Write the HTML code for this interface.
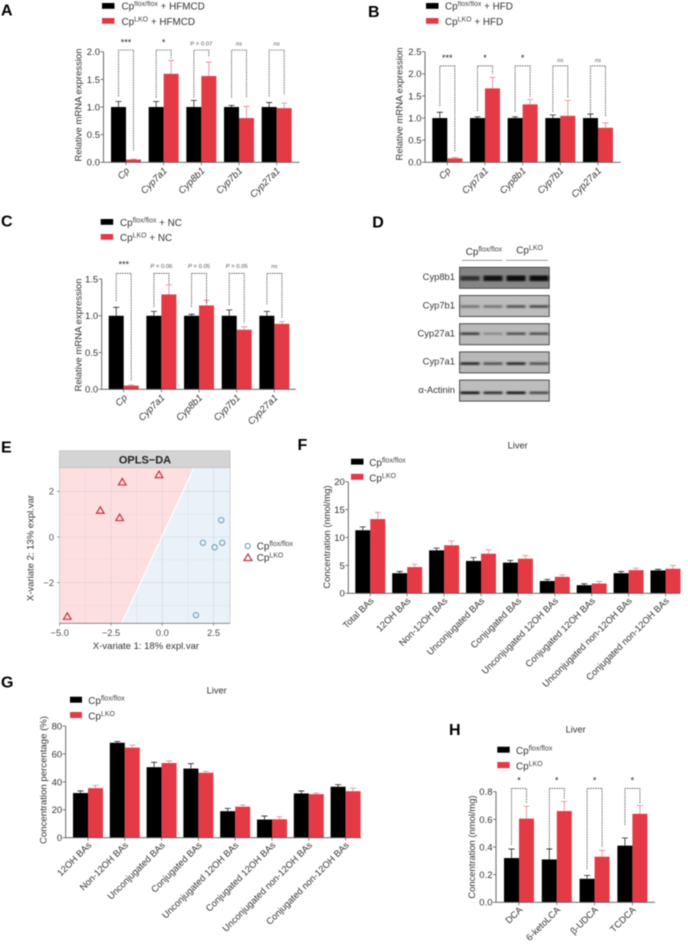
<!DOCTYPE html>
<html lang="en">
<head>
<meta charset="utf-8">
<title>Bile acid figure panels</title>
<style>
html,body{margin:0;padding:0;background:#fff;width:688px;height:944px;overflow:hidden}
svg{display:block;filter:blur(0.4px);font-family:"Liberation Sans",Arial,sans-serif;fill:#333}
.letter{font-size:16px;font-weight:bold;fill:#000}
.leg{font-size:9.9px}
.sup{font-size:7px;fill:#444}
.title{font-size:9.3px;text-anchor:middle}
</style>
</head>
<body>
<svg id="figure" xmlns="http://www.w3.org/2000/svg" width="688" height="944" viewBox="0 0 688 944">
<defs>
<filter id="band-blur" x="-30%" y="-150%" width="160%" height="400%"><feGaussianBlur stdDeviation="1.1 0.7"/></filter>
<clipPath id="e-clip"><rect x="59.5" y="467.7" width="170.5" height="155.6"/></clipPath>
</defs>

<text class="letter" x="1" y="15.7">A</text>
<text class="letter" x="368" y="17">B</text>
<text class="letter" x="1" y="226.7">C</text>
<text class="letter" x="372.3" y="227.5">D</text>
<text class="letter" x="1" y="452.3">E</text>
<text class="letter" x="297.5" y="450">F</text>
<text class="letter" x="1" y="687.3">G</text>
<text class="letter" x="449" y="735">H</text>

<!-- Legends -->
<g>
<rect x="102" y="3" width="12.5" height="5.8" fill="#000"/>
<text class="leg" x="121.5" y="9.6">Cp<tspan class="sup" dy="-3.4">flox/flox</tspan><tspan dy="3.4"> + HFMCD</tspan></text>
<rect x="102" y="18" width="12.5" height="5.8" fill="#e43a46"/>
<text class="leg" x="121.5" y="24.8">Cp<tspan class="sup" dy="-3.4">LKO</tspan><tspan dy="3.4"> + HFMCD</tspan></text>
</g>
<g>
<rect x="426" y="3" width="12.5" height="5.8" fill="#000"/>
<text class="leg" x="445" y="9.6">Cp<tspan class="sup" dy="-3.4">flox/flox</tspan><tspan dy="3.4"> + HFD</tspan></text>
<rect x="426" y="18" width="12.5" height="5.8" fill="#e43a46"/>
<text class="leg" x="445" y="24.8">Cp<tspan class="sup" dy="-3.4">LKO</tspan><tspan dy="3.4"> + HFD</tspan></text>
</g>
<g>
<rect x="100.7" y="219" width="12.5" height="5.8" fill="#000"/>
<text class="leg" x="120" y="225.8">Cp<tspan class="sup" dy="-3.4">flox/flox</tspan><tspan dy="3.4"> + NC</tspan></text>
<rect x="100.7" y="234" width="12.5" height="5.8" fill="#e43a46"/>
<text class="leg" x="120" y="240.8">Cp<tspan class="sup" dy="-3.4">LKO</tspan><tspan dy="3.4"> + NC</tspan></text>
</g>
<g>
<rect x="351" y="458.7" width="12.5" height="5.9" fill="#000"/>
<text class="leg" x="369.3" y="466">Cp<tspan class="sup" dy="-3.4">flox/flox</tspan></text>
<rect x="351" y="473.8" width="12.5" height="6" fill="#e43a46"/>
<text class="leg" x="369.3" y="481.3">Cp<tspan class="sup" dy="-3.4">LKO</tspan></text>
<text class="title" x="517.7" y="448.7">Liver</text>
</g>
<g>
<rect x="70" y="696.7" width="12" height="6" fill="#000"/>
<text class="leg" x="88.3" y="704">Cp<tspan class="sup" dy="-3.4">flox/flox</tspan></text>
<rect x="70" y="712" width="12" height="6" fill="#e43a46"/>
<text class="leg" x="88.3" y="719.3">Cp<tspan class="sup" dy="-3.4">LKO</tspan></text>
<text class="title" x="216.7" y="693.3">Liver</text>
</g>
<g>
<rect x="497.3" y="746.7" width="12.4" height="6" fill="#000"/>
<text class="leg" x="516" y="754">Cp<tspan class="sup" dy="-3.4">flox/flox</tspan></text>
<rect x="497.3" y="762" width="12.4" height="6.2" fill="#e43a46"/>
<text class="leg" x="516" y="769.3">Cp<tspan class="sup" dy="-3.4">LKO</tspan></text>
<text class="title" x="575.7" y="732.3">Liver</text>
</g>

<!-- Panels filled by script -->
<g id="panel-a"></g>
<g id="panel-b"></g>
<g id="panel-c"></g>
<g id="panel-f"></g>
<g id="panel-g"></g>
<g id="panel-h"></g>

<!-- Panel D -->
<g id="panel-d">
<text class="leg" x="465.7" y="255">Cp<tspan class="sup" dy="-3.4">flox/flox</tspan></text>
<text class="leg" x="516.3" y="253.5">Cp<tspan class="sup" dy="-3.4">LKO</tspan></text>
<line x1="462" x2="502.5" y1="260.3" y2="260.3" stroke="#666" stroke-width="0.7"/>
<line x1="506" x2="548" y1="260.3" y2="260.3" stroke="#666" stroke-width="0.7"/>
</g>

<!-- Panel E -->
<g id="panel-e">
<rect x="59.5" y="450.8" width="170.5" height="17" fill="#d4d4d4" stroke="#bdbdbd" stroke-width="0.8"/>
<text x="145" y="463.5" text-anchor="middle" style="font-size:11px;font-weight:bold;fill:#222">OPLS−DA</text>
<g id="e-plot" clip-path="url(#e-clip)"></g>
<g id="e-axes"></g>
<circle cx="247.7" cy="546" r="2.6" fill="none" stroke="#6f9fb8" stroke-width="1.1"/>
<text class="leg" x="256.7" y="549.3">Cp<tspan class="sup" dy="-3.4">flox/flox</tspan></text>
<path d="M244 560.5 L248 554 L252 560.5 Z" fill="none" stroke="#c0333f" stroke-width="1.2"/>
<text class="leg" x="256.7" y="560.8">Cp<tspan class="sup" dy="-3.4">LKO</tspan></text>
</g>

<script>
// ---------- Panel A data ----------
const genes = ['Cp', 'Cyp7a1', 'Cyp8b1', 'Cyp7b1', 'Cyp27a1'];
const ticksA = ['0.0', '0.5', '1.0', '1.5', '2.0'];
const floxA = [1, 1, 1, 1, 1];
const floxTopA = [1.10, 1.10, 1.12, 1.03, 1.08];
const lkoA = [0.05, 1.60, 1.56, 0.80, 0.98];
const lkoTopA = [0.06, 1.84, 1.81, 1.01, 1.07];
const sigA = ['***', '*', 'P = 0.07', 'ns', 'ns'];
const bracketTopA = 2.03;
const bracketLeftA = [1.19, 1.17, 1.17, 1.17, 1.19];
const bracketRightA = [0.21, 1.88, 1.92, 1.17, 1.22];

// ---------- Panel B data ----------
const ticksB = ['0.0', '0.5', '1.0', '1.5', '2.0', '2.5'];
const floxB = [1, 1, 1, 1, 1];
const floxTopB = [1.13, 1.03, 1.03, 1.07, 1.09];
const lkoB = [0.09, 1.67, 1.31, 1.05, 0.78];
const lkoTopB = [0.11, 1.92, 1.42, 1.40, 0.89];
const sigB = ['***', '*', '*', 'ns', 'ns'];
const bracketTopB = 2.18;
const bracketLeftB = [1.27, 1.16, 1.14, 1.14, 1.07];
const bracketRightB = [0.24, 2.00, 1.48, 1.45, 1.02];

// ---------- Panel C data ----------
const ticksC = ['0.0', '0.5', '1.0', '1.5'];
const floxC = [1, 1, 1, 1, 1];
const floxTopC = [1.115, 1.06, 1.02, 1.08, 1.06];
const lkoC = [0.05, 1.29, 1.14, 0.81, 0.89];
const lkoTopC = [0.06, 1.42, 1.21, 0.85, 0.92];
const sigC = ['***', 'P = 0.06', 'P = 0.05', 'P = 0.05', 'ns'];
const bracketTopC = 1.577;
const bracketLeftC = [1.20, 1.12, 1.12, 1.146, 1.155];
const bracketRightC = [0.12, 1.42, 1.17, 0.90, 0.965];

// ---------- Panel F data ----------
const categoriesF = ['Total BAs', '12OH BAs', 'Non-12OH BAs', 'Unconjugated BAs', 'Conjugated BAs', 'Unconjugated 12OH BAs', 'Conjugated 12OH BAs', 'Unconjugated non-12OH BAs', 'Conjugated non-12OH BAs'];
const ticksF = ['0', '5', '10', '15', '20'];
const floxF = [11.3, 3.6, 7.7, 5.8, 5.5, 2.2, 1.45, 3.6, 4.1];
const floxTopF = [11.9, 3.9, 8.1, 6.4, 5.9, 2.5, 1.7, 3.9, 4.3];
const lkoF = [13.3, 4.7, 8.6, 7.1, 6.2, 2.95, 1.75, 4.15, 4.4];
const lkoTopF = [14.5, 5.2, 9.4, 7.8, 6.8, 3.3, 2.1, 4.5, 5.0];

// ---------- Panel G data ----------
const categoriesG = ['12OH BAs', 'Non-12OH BAs', 'Unconjugated BAs', 'Conjugated BAs', 'Unconjugated 12OH BAs', 'Conjugated 12OH BAs', 'Unconjugated non-12OH BAs', 'Conjugated non-12OH BAs'];
const ticksG = ['0', '20', '40', '60', '80'];
const floxG = [32, 68, 50.5, 49.5, 19, 13, 31.7, 36.5];
const floxTopG = [33.5, 69, 54, 53, 21, 15.5, 33.5, 38];
const lkoG = [35.5, 64.5, 53.5, 46.5, 22.2, 13.2, 31.2, 33.3];
const lkoTopG = [37.5, 66.3, 55, 47.5, 23.5, 15, 32, 35.5];

// ---------- Panel H data ----------
const categoriesH = ['DCA', '6-ketoLCA', 'β-UDCA', 'TCDCA'];
const ticksH = ['0.0', '0.2', '0.4', '0.6', '0.8'];
const floxH = [0.32, 0.31, 0.17, 0.41];
const floxTopH = [0.385, 0.385, 0.195, 0.465];
const lkoH = [0.605, 0.66, 0.33, 0.64];
const lkoTopH = [0.695, 0.73, 0.375, 0.70];
const sigH = ['*', '*', '*', '*'];
const bracketTopH = 0.824;
const bracketLeftH = [0.415, 0.39, 0.24, 0.56];
const bracketRightH = [0.715, 0.75, 0.40, 0.71];

// ---------- Panel E data ----------
const floxScatterX = [2.87, 1.98, 2.55, 2.92, 1.64];
const floxScatterY = [0.74, -0.25, -0.45, -0.25, -3.42];
const lkoScatterX = [-3.02, -1.95, -0.16, -2.08, -4.63];
const lkoScatterY = [1.17, 2.41, 2.73, 0.85, -3.47];
const scatterXTicks = [-5, -2.5, 0, 2.5];
const scatterYTicks = [-2, 0, 2];

// ---------- Panel D data (band darkness per lane) ----------
const blotProteins = ['Cyp8b1', 'Cyp7b1', 'Cyp27a1', 'Cyp7a1', 'α-Actinin'];
const blotBands = [
  [0.7, 0.95, 1, 1],
  [0.4, 0.4, 0.6, 0.65],
  [0.7, 0.25, 0.6, 0.6],
  [0.85, 0.6, 0.85, 0.6],
  [0.95, 0.8, 0.95, 0.65]
];

const NS = 'http://www.w3.org/2000/svg';
const RED = '#e43a46';
const RED_ERR = '#e9808a';

function add(parent, tag, attrs, text) {
  const el = document.createElementNS(NS, tag);
  for (const k in attrs) el.setAttribute(k, attrs[k]);
  if (text !== undefined) el.textContent = text;
  parent.appendChild(el);
  return el;
}

function linearScale(dMin, dMax, rMin, rMax) {
  return v => rMin + (v - dMin) / (dMax - dMin) * (rMax - rMin);
}

function drawBarPanel(p) {
  const root = document.getElementById(p.id);
  const tickValues = p.ticks.map(Number);
  const y = linearScale(0, Math.max.apply(null, tickValues), p.y0, p.yTop);
  const x = i => p.firstX + i * p.step;
  const halfBar = 15;

  p.cats.forEach((cat, i) => {
    const cx = x(i);
    const barBlack = add(root, 'rect', { x: cx - halfBar, y: y(p.flox[i]), width: halfBar, height: p.y0 - y(p.flox[i]), fill: '#000' });
    
    
    const barRed = add(root, 'rect', { x: cx, y: y(p.lko[i]), width: halfBar, height: p.y0 - y(p.lko[i]), fill: RED });
    
    

    const errBlack = add(root, 'path', { d: `M${cx - 7.5} ${y(p.flox[i])}V${y(p.floxTop[i])}M${cx - 10.5} ${y(p.floxTop[i])}H${cx - 4.5}`, stroke: '#222', 'stroke-width': 0.8, fill: 'none' });
    
    
    const errRed = add(root, 'path', { d: `M${cx + 7.5} ${y(p.lko[i])}V${y(p.lkoTop[i])}M${cx + 4.5} ${y(p.lkoTop[i])}H${cx + 10.5}`, stroke: RED_ERR, 'stroke-width': 0.8, fill: 'none' });
    
    

    const tick = add(root, 'line', { x1: cx, x2: cx, y1: p.y0, y2: p.y0 + 3, stroke: '#555', 'stroke-width': 0.7 });
    
    

    const lx = cx + p.labelDx, ly = p.y0 + p.labelDy;
    const label = add(root, 'text', { x: lx, y: ly, 'text-anchor': 'end', transform: `rotate(-45 ${lx} ${ly})`, style: `font-size:${p.labelSize}px;${p.italic ? 'font-style:italic;' : ''}` }, cat);
    
    

    if (p.sig) {
      const yt = y(p.bracketTop);
      const br = add(root, 'path', { d: `M${cx - 7.5} ${y(p.bracketLeft[i])}V${yt}H${cx + 7.5}V${y(p.bracketRight[i])}`, stroke: '#333', 'stroke-width': 0.7, 'stroke-dasharray': '1.5 0.9', fill: 'none' });
      
      
      const s = p.sig[i];
      const star = s[0] === '*';
      const sl = add(root, 'text', { x: cx, y: star ? p.starY : p.textY, 'text-anchor': 'middle', style: star ? 'font-size:9px;fill:#222' : 'font-size:5.9px;fill:#555' });
      
      
      if (s === 'ns') {
        sl.style.fontStyle = 'italic';
        sl.textContent = s;
      } else if (s[0] === 'P') {
        add(sl, 'tspan', { 'font-style': p.id === 'panel-a' ? 'normal' : 'italic' }, 'P');
        add(sl, 'tspan', {}, s.slice(1));
      } else {
        sl.textContent = s;
      }
    }
  });

  const yAxis = add(root, 'line', { x1: p.axisX, x2: p.axisX, y1: p.yTop, y2: p.y0, stroke: '#444', 'stroke-width': 0.8 });
  
  
  const xAxis = add(root, 'line', { x1: p.axisX, x2: p.axisEnd, y1: p.y0, y2: p.y0, stroke: '#555', 'stroke-width': 0.8 });
  
  

  p.ticks.forEach(t => {
    const ty = y(Number(t));
    const tk = add(root, 'line', { x1: p.axisX - 3, x2: p.axisX, y1: ty, y2: ty, stroke: '#444', 'stroke-width': 0.7 });
    
    
    const lb = add(root, 'text', { x: p.axisX - 3.5, y: ty + 3.4, 'text-anchor': 'end', style: 'font-size:9.5px' }, t);
    
    
  });

  const title = add(root, 'text', { x: p.titleX, y: p.titleY, 'text-anchor': 'middle', transform: `rotate(-90 ${p.titleX} ${p.titleY})`, style: 'font-size:' + p.titleSize + 'px' }, p.yTitle);
  
  
}

const panels = [
  { id: 'panel-a', cats: genes, ticks: ticksA, flox: floxA, floxTop: floxTopA, lko: lkoA, lkoTop: lkoTopA, sig: sigA, bracketTop: bracketTopA, bracketLeft: bracketLeftA, bracketRight: bracketRightA,
    axisX: 103.5, axisEnd: 299.5, y0: 162.3, yTop: 51.7, firstX: 126, step: 37.67, starY: 45.3, textY: 45.3, italic: true, labelDx: 4, labelDy: 9, labelSize: 9.5, yTitle: 'Relative mRNA expression', titleX: 81.7, titleY: 105, titleSize: 9.5 },
  { id: 'panel-b', cats: genes, ticks: ticksB, flox: floxB, floxTop: floxTopB, lko: lkoB, lkoTop: lkoTopB, sig: sigB, bracketTop: bracketTopB, bracketLeft: bracketLeftB, bracketRight: bracketRightB,
    axisX: 425, axisEnd: 620.7, y0: 162.3, yTop: 51.7, firstX: 447.3, step: 37.67, starY: 61, textY: 62, italic: true, labelDx: 4, labelDy: 9, labelSize: 9.5, yTitle: 'Relative mRNA expression', titleX: 402.7, titleY: 104, titleSize: 9.5 },
  { id: 'panel-c', cats: genes, ticks: ticksC, flox: floxC, floxTop: floxTopC, lko: lkoC, lkoTop: lkoTopC, sig: sigC, bracketTop: bracketTopC, bracketLeft: bracketLeftC, bracketRight: bracketRightC,
    axisX: 101.7, axisEnd: 296, y0: 389.3, yTop: 279, firstX: 123.7, step: 37.67, starY: 267.3, textY: 268, italic: true, labelDx: 4, labelDy: 9, labelSize: 9.5, yTitle: 'Relative mRNA expression', titleX: 81.7, titleY: 335, titleSize: 9.5 },
  { id: 'panel-f', cats: categoriesF, ticks: ticksF, flox: floxF, floxTop: floxTopF, lko: lkoF, lkoTop: lkoTopF,
    axisX: 348.3, axisEnd: 680, y0: 593.3, yTop: 481.7, firstX: 370.3, step: 36.9, italic: false, labelDx: 4, labelDy: 8, labelSize: 9.3, yTitle: 'Concentration (nmol/mg)', titleX: 330, titleY: 537, titleSize: 9.4 },
  { id: 'panel-g', cats: categoriesG, ticks: ticksG, flox: floxG, floxTop: floxTopG, lko: lkoG, lkoTop: lkoTopG,
    axisX: 65.7, axisEnd: 361, y0: 837.7, yTop: 726, firstX: 88, step: 36.8, italic: false, labelDx: 4, labelDy: 8, labelSize: 9.3, yTitle: 'Concentration percentage (%)', titleX: 46.7, titleY: 780, titleSize: 9.6 },
  { id: 'panel-h', cats: categoriesH, ticks: ticksH, flox: floxH, floxTop: floxTopH, lko: lkoH, lkoTop: lkoTopH, sig: sigH, bracketTop: bracketTopH, bracketLeft: bracketLeftH, bracketRight: bracketRightH,
    axisX: 496, axisEnd: 655, y0: 902.3, yTop: 791.7, firstX: 519, step: 37.8, starY: 783.3, textY: 782, italic: false, labelDx: 4, labelDy: 8, labelSize: 9.3, yTitle: 'Concentration (nmol/mg)', titleX: 475, titleY: 847, titleSize: 9.4 }
];
panels.forEach(drawBarPanel);

// ---------- Panel D ----------
(function () {
  const root = document.getElementById('panel-d');
  const rowTops = i => 267.3 + i * 28.2;
  const laneX = j => 470 + j * 23;
  const rowFill = ['#858585', '#bcbcbc', '#b9b9b9', '#b8b8b8', '#bdbdbd'];
  const rowBandY = [11, 11, 10, 11.7, 12.7];
  blotProteins.forEach((name, i) => {
    const top = rowTops(i);
    const lb = add(root, 'text', { x: 455, y: top + 12.8, 'text-anchor': 'end', style: 'font-size:9.4px' }, name);
    
    
    const bg = add(root, 'rect', { x: 459.6, y: top, width: 89.6, height: 21, fill: rowFill[i], stroke: '#4a4a4a', 'stroke-width': 1 });
    
    
    blotBands[i].forEach((d, j) => {
      const h = i === 0 ? 2.4 + 3.2 * d : 2.6;
      const band = add(root, 'rect', { x: laneX(j) - 9.5, y: top + rowBandY[i] - h / 2, width: 19, height: h, fill: '#0a0a0a', opacity: d, filter: 'url(#band-blur)' });
      
      
    });
  });
})();

// ---------- Panel E ----------
(function () {
  const plot = document.getElementById('e-plot');
  const axes = document.getElementById('e-axes');
  const sx = linearScale(0, 2.5, 162.3, 213.6);
  const sy = linearScale(0, 2, 537, 491.3);

  const pink = add(plot, 'rect', { x: 59.5, y: 467.7, width: 170.5, height: 155.6, fill: '#e9f1f9' });
  
  
  const red = add(plot, 'polygon', { points: '59.5,467.7 194,467.7 121.7,623.3 59.5,623.3', fill: '#fddfe0' });
  
  

  const gridX = [-5, -3.75, -2.5, -1.25, 0, 1.25, 2.5];
  const gridY = [-3, -2, -1, 0, 1, 2];
  gridX.forEach(v => {
    const g = add(plot, 'line', { x1: sx(v), x2: sx(v), y1: 467.7, y2: 623.3, stroke: '#cfcfd4', 'stroke-width': scatterXTicks.includes(v) ? 0.6 : 0.3, opacity: 0.8 });
    
    
  });
  gridY.forEach(v => {
    const g = add(plot, 'line', { x1: 59.5, x2: 230, y1: sy(v), y2: sy(v), stroke: '#cfcfd4', 'stroke-width': scatterYTicks.includes(v) ? 0.6 : 0.3, opacity: 0.8 });
    
    
  });
  const divider = add(plot, 'line', { x1: 121.7, y1: 623.3, x2: 194, y2: 467.7, stroke: '#fff', 'stroke-width': 1.2 });
  
  

  floxScatterX.forEach((v, i) => {
    const c = add(plot, 'circle', { cx: sx(v), cy: sy(floxScatterY[i]), r: 2.6, fill: 'none', stroke: '#6f9fb8', 'stroke-width': 1.1 });
    
    
  });
  lkoScatterX.forEach((v, i) => {
    const px = sx(v), py = sy(lkoScatterY[i]);
    const t = add(plot, 'path', { d: `M${px - 3.8} ${py + 3}L${px} ${py - 3.5}L${px + 3.8} ${py + 3}Z`, fill: 'none', stroke: '#c0333f', 'stroke-width': 1.2 });
    
    
  });

  const bottom = add(axes, 'rect', { x: 59.5, y: 467.7, width: 170.5, height: 155.6, fill: 'none', stroke: '#bbb', 'stroke-width': 0.6 });
  
  
  const xaxis = add(axes, 'line', { x1: 59.5, x2: 230, y1: 623.3, y2: 623.3, stroke: '#555', 'stroke-width': 0.7 });
  
  

  scatterXTicks.forEach(v => {
    const tk = add(axes, 'line', { x1: sx(v), x2: sx(v), y1: 623.3, y2: 625.8, stroke: '#555', 'stroke-width': 0.6 });
    
    
    const lb = add(axes, 'text', { x: sx(v), y: 636, 'text-anchor': 'middle', style: 'font-size:9.3px;fill:#4d4d4d' }, (v < 0 ? '−' : '') + Math.abs(v).toFixed(1));
    
    
  });
  scatterYTicks.forEach(v => {
    const tk = add(axes, 'line', { x1: 57, x2: 59.5, y1: sy(v), y2: sy(v), stroke: '#555', 'stroke-width': 0.6 });
    
    
    const lb = add(axes, 'text', { x: 54, y: sy(v) + 3.3, 'text-anchor': 'end', style: 'font-size:9.3px;fill:#4d4d4d' }, (v < 0 ? '−' : '') + Math.abs(v));
    
    
  });
  const xt = add(axes, 'text', { x: 146, y: 649, 'text-anchor': 'middle', style: 'font-size:9.5px;fill:#333' }, 'X-variate 1: 18% expl.var');
  
  
  const yt = add(axes, 'text', { x: 33.5, y: 548, 'text-anchor': 'middle', transform: 'rotate(-90 33.5 548)', style: 'font-size:9.5px;fill:#333' }, 'X-variate 2: 13% expl.var');
  
  
})();
</script>
</svg>
</body>
</html>
